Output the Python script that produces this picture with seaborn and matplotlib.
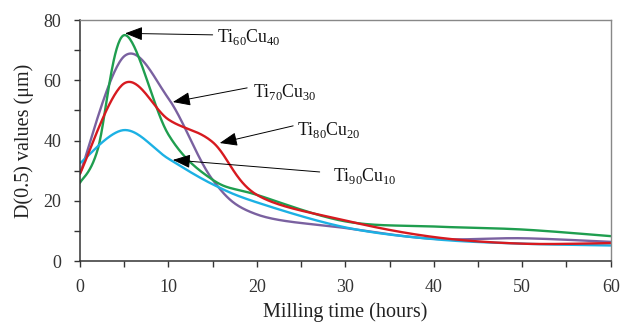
import numpy as np
import pandas as pd
import matplotlib
matplotlib.use("Agg")
import matplotlib.pyplot as plt
import seaborn as sns

# ---- data ----
hours = [0, 5, 10, 15, 20, 30, 40, 50, 60]
hours_ti60 = [0, 2, 5, 10, 15, 20, 30, 40, 50, 60]
ti60cu40 = [26.0, 37.0, 75.0, 42.0, 27.0, 22.0, 13.2, 11.5, 10.5, 8.3]
ti70cu30 = [29.0, 68.0, 54.0, 27.0, 15.5, 11.0, 7.4, 7.6, 6.4]
ti80cu20 = [29.0, 59.0, 47.0, 39.5, 22.0, 13.5, 8.0, 5.8, 6.0]
ti90cu10 = [32.5, 43.5, 34.0, 25.5, 19.5, 11.2, 7.3, 5.8, 5.2]

series_names = ["Ti60Cu40", "Ti70Cu30", "Ti80Cu20", "Ti90Cu10"]
series_x = [hours_ti60, hours, hours, hours]
series_vals = [ti60cu40, ti70cu30, ti80cu20, ti90cu10]
labels = [r"Ti$_\mathrm{60}$Cu$_\mathrm{40}$", r"Ti$_\mathrm{70}$Cu$_\mathrm{30}$",
          r"Ti$_\mathrm{80}$Cu$_\mathrm{20}$", r"Ti$_\mathrm{90}$Cu$_\mathrm{10}$"]
colors = {"Ti60Cu40": "#1f9e4f", "Ti70Cu30": "#7a61a0",
          "Ti80Cu20": "#d71a20", "Ti90Cu10": "#1cb1e4"}


def smooth(xs, ys, n=40):
    """Excel-style smoothed line (Catmull-Rom / Bezier) through the points."""
    P = np.column_stack([xs, ys]).astype(float)
    Pext = np.vstack([P[0], P, P[-1]])
    out = []
    t = np.linspace(0, 1, n)
    for i in range(len(P) - 1):
        p0, p1, p2, p3 = Pext[i], Pext[i + 1], Pext[i + 2], Pext[i + 3]
        c1 = p1 + (p2 - p0) / 6.0
        c2 = p2 - (p3 - p1) / 6.0
        seg = ((1 - t) ** 3)[:, None] * p1 + (3 * (1 - t) ** 2 * t)[:, None] * c1 \
            + (3 * (1 - t) * t ** 2)[:, None] * c2 + (t ** 3)[:, None] * p2
        out.append(seg if i == 0 else seg[1:])
    return np.vstack(out)


frames = []
for name, xs, vals in zip(series_names, series_x, series_vals):
    s = smooth(xs, vals)
    frames.append(pd.DataFrame({"x": s[:, 0], "y": s[:, 1], "alloy": name}))
df = pd.concat(frames, ignore_index=True)

sns.set_theme(style="white")
plt.rcParams["font.family"] = ["Liberation Serif", "DejaVu Serif"]
plt.rcParams["mathtext.fontset"] = "custom"
plt.rcParams["mathtext.rm"] = "Liberation Serif"

fig = plt.figure(figsize=(6.2, 3.24), dpi=100)
ax = fig.add_axes([0.129, 0.194, 0.856, 0.744])

draw_order = ["Ti70Cu30", "Ti60Cu40", "Ti90Cu10", "Ti80Cu20"]
for name in draw_order:
    sub = df[df["alloy"] == name]
    sns.lineplot(data=sub, x="x", y="y", sort=False, color=colors[name],
                 lw=1.7, ax=ax, legend=False)

ax.set_xlim(0, 60)
ax.set_ylim(0, 80)
ax.set_xticks(np.arange(0, 61, 5))
ax.set_xticklabels([str(v) if v % 10 == 0 else "" for v in range(0, 61, 5)])
ax.set_yticks(np.arange(0, 81, 10))
ax.set_yticklabels([str(v) if v % 20 == 0 else "" for v in range(0, 81, 10)])
ax.tick_params(axis="both", direction="out", length=4.5, width=1, colors="#333333",
               labelsize=13, bottom=True, left=True)
ax.tick_params(axis="x", pad=8)
ax.tick_params(axis="y", pad=9)
for sp in ["left", "bottom"]:
    ax.spines[sp].set_color("#333333")
    ax.spines[sp].set_linewidth(1.1)
for sp in ["top", "right"]:
    ax.spines[sp].set_color("#888888")
    ax.spines[sp].set_linewidth(1.0)

ax.set_xlabel("Milling time (hours)", fontsize=14.5, color="#222222", labelpad=5)
ax.set_ylabel("D(0.5) values (μm)", fontsize=14.5, color="#222222", labelpad=7)

# annotations: (tip, tail, text position)
tips = [(5.1, 75.6), (10.5, 52.8), (15.8, 39.2), (10.5, 33.6)]
tails = [(15.0, 75.1), (18.9, 57.5), (24.1, 44.9), (27.1, 29.6)]
text_pos = [(15.5, 74.3), (19.6, 56.2), (24.5, 43.6), (28.6, 28.4)]
for lab, tip, tail, tp in zip(labels, tips, tails, text_pos):
    ax.annotate("", xy=tip, xytext=tail,
                arrowprops=dict(arrowstyle="-|>,head_length=0.9,head_width=0.35",
                                color="black", lw=0.7, mutation_scale=12,
                                shrinkA=0, shrinkB=0))
    ax.text(tp[0], tp[1], lab, fontsize=12.8, va="center", ha="left", color="#111111")

fig.savefig("out.png", dpi=100)
